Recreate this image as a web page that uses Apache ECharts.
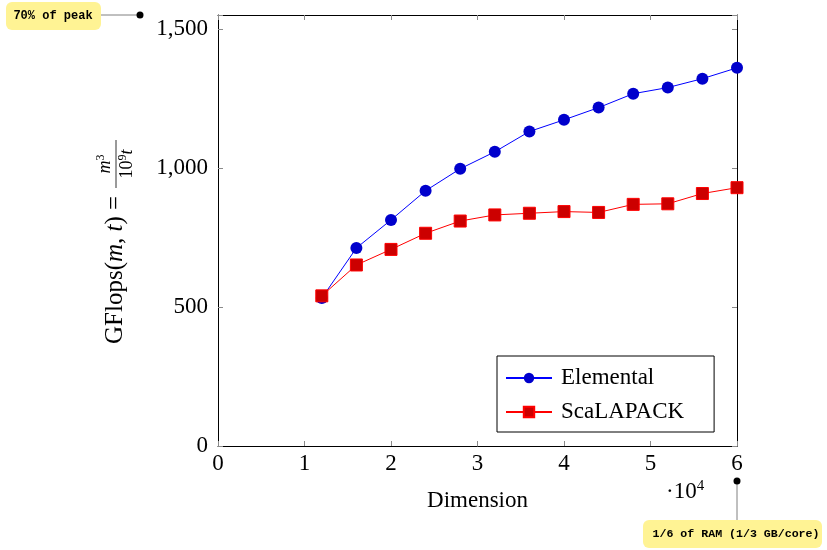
<!DOCTYPE html>
<html>
<head>
<meta charset="utf-8">
<script src="https://cdn.jsdelivr.net/npm/echarts@6/dist/echarts.min.js"></script>
<style>html,body{margin:0;padding:0;background:#fff;}#c{width:827px;height:550px;}</style>
</head>
<body>
<div id="c"></div>
<script>
const dims = [12000, 16000, 20000, 24000, 28000, 32000, 36000, 40000, 44000, 48000, 52000, 56000, 60000];
const elemental = [532, 712, 813, 918, 997, 1058, 1131, 1173, 1217, 1267, 1289, 1321, 1360];
const scalapack = [540, 651, 707, 765, 809, 831, 837, 843, 840, 869, 871, 908, 929];
const yTicks = [0, 500, 1000, 1500];
const xTicks = [0, 1, 2, 3, 4, 5, 6];

const SERIF = '"Liberation Serif", "DejaVu Serif", serif';
const MONO = '"Liberation Mono", "DejaVu Sans Mono", monospace';
const FS = 23;
const TICKC = '#8a8a8a';
const YEL = '#fff394';

const chart = echarts.init(document.getElementById('c'), null, {renderer: 'canvas'});

function pairs(xs, ys) { return xs.map((x, i) => [x, ys[i]]); }

const xCommon = {
  type: 'value', min: 0, max: 60000, interval: 10000,
  splitLine: {show: false},
  axisLine: {show: true, onZero: false, lineStyle: {color: '#000', width: 1}},
  axisTick: {show: true, inside: true, length: 5, lineStyle: {color: TICKC, width: 1}}
};
const yCommon = {
  type: 'value', min: 0, max: 1550, interval: 500,
  splitLine: {show: false},
  axisLine: {show: true, onZero: false, lineStyle: {color: '#000', width: 1}},
  axisTick: {show: true, inside: true, length: 5, lineStyle: {color: TICKC, width: 1}}
};

chart.setOption({
  animation: false,
  backgroundColor: '#fff',
  grid: {left: 218, right: 90, top: 15, bottom: 104, containLabel: false},
  xAxis: [
    Object.assign({}, xCommon, {
      position: 'bottom',
      name: 'Dimension', nameLocation: 'middle', nameGap: 43,
      nameTextStyle: {fontFamily: SERIF, fontSize: FS, color: '#000'},
      axisLabel: {
        show: true, margin: 6, fontFamily: SERIF, fontSize: FS, color: '#000',
        formatter: v => { const t = v / 10000; return xTicks.indexOf(t) >= 0 ? String(t) : ''; }
      }
    }),
    Object.assign({}, xCommon, {position: 'top', axisLabel: {show: false}})
  ],
  yAxis: [
    Object.assign({}, yCommon, {
      position: 'left',
      axisLabel: {
        show: true, margin: 10, fontFamily: SERIF, fontSize: FS, color: '#000',
        formatter: v => yTicks.indexOf(v) >= 0 ? v.toLocaleString('en-US') : ''
      }
    }),
    Object.assign({}, yCommon, {position: 'right', axisLabel: {show: false}})
  ],
  legend: {
    orient: 'vertical', left: 497, top: 356,
    padding: [10, 30, 8, 8],
    borderColor: '#000', borderWidth: 1, borderRadius: 0,
    backgroundColor: '#fff',
    itemWidth: 46, itemHeight: 13, itemGap: 10,
    textStyle: {fontFamily: SERIF, fontSize: FS, color: '#000', lineHeight: 24, padding: [0, 0, 0, 4]},
    data: ['Elemental', 'ScaLAPACK']
  },
  series: [
    {
      name: 'Elemental', type: 'line', xAxisIndex: 0, yAxisIndex: 0,
      data: pairs(dims, elemental),
      symbol: 'circle', symbolSize: 12,
      itemStyle: {color: '#0000cc', borderColor: '#0000cc', borderWidth: 0},
      lineStyle: {color: '#0000ff', width: 1},
      z: 2
    },
    {
      name: 'ScaLAPACK', type: 'line', xAxisIndex: 0, yAxisIndex: 0,
      data: pairs(dims, scalapack),
      symbol: 'rect', symbolSize: 12,
      itemStyle: {color: '#cc0000', borderColor: '#ff0000', borderWidth: 1},
      lineStyle: {color: '#ff0000', width: 1},
      z: 3
    }
  ],
  graphic: [
    // y-axis label (rotated)
    {
      type: 'group', x: 115, y: 232, rotation: Math.PI / 2, silent: true,
      children: [
        {
          type: 'text', x: -112, y: 0,
          style: {
            text: '{n|GFlops(}{i|m}{n|, }{i|t}{n|) =}',
            textAlign: 'left', textVerticalAlign: 'middle',
            rich: {
              n: {fontFamily: SERIF, fontSize: 25, fill: '#000'},
              i: {fontFamily: SERIF, fontSize: 25, fontStyle: 'italic', fill: '#000'}
            }
          }
        },
        {
          type: 'text', x: 68, y: -10,
          style: {
            text: '{i|m}{s|3}', textAlign: 'center', textVerticalAlign: 'middle',
            rich: {
              i: {fontFamily: SERIF, fontSize: 18, fontStyle: 'italic', fill: '#000'},
              s: {fontFamily: SERIF, fontSize: 12, fill: '#000', verticalAlign: 'top', padding: [0, 0, 8, 0]}
            }
          }
        },
        {type: 'line', shape: {x1: 44, y1: 1, x2: 92, y2: 1}, style: {stroke: '#000', lineWidth: 0.8}},
        {
          type: 'text', x: 68, y: 12,
          style: {
            text: '{n|10}{s|9}{i|t}', textAlign: 'center', textVerticalAlign: 'middle',
            rich: {
              n: {fontFamily: SERIF, fontSize: 18, fill: '#000'},
              i: {fontFamily: SERIF, fontSize: 18, fontStyle: 'italic', fill: '#000'},
              s: {fontFamily: SERIF, fontSize: 12, fill: '#000', verticalAlign: 'top', padding: [0, 0, 8, 0]}
            }
          }
        }
      ]
    },
    // x scale factor
    {
      type: 'text', x: 666, y: 492, silent: true,
      style: {
        text: '{n|·10}{s|4}', textAlign: 'left', textVerticalAlign: 'middle',
        rich: {
          n: {fontFamily: SERIF, fontSize: FS, fill: '#000'},
          s: {fontFamily: SERIF, fontSize: 15, fill: '#000', padding: [0, 0, 12, 0]}
        }
      }
    },
    // top annotation
    {type: 'line', shape: {x1: 100, y1: 15, x2: 140, y2: 15}, style: {stroke: '#808080', lineWidth: 1}, silent: true},
    {type: 'circle', shape: {cx: 140, cy: 15, r: 3.5}, style: {fill: '#000'}, silent: true},
    {type: 'rect', shape: {x: 6, y: 2, width: 95, height: 28, r: 6}, style: {fill: YEL}, silent: true},
    {
      type: 'text', x: 53, y: 16, silent: true,
      style: {text: '70% of peak', fontFamily: MONO, fontSize: 12, fontWeight: 'bold', fill: '#000', textAlign: 'center', textVerticalAlign: 'middle'}
    },
    // bottom annotation
    {type: 'line', shape: {x1: 737, y1: 481, x2: 737, y2: 520}, style: {stroke: '#808080', lineWidth: 1}, silent: true},
    {type: 'circle', shape: {cx: 737, cy: 481, r: 3.5}, style: {fill: '#000'}, silent: true},
    {type: 'rect', shape: {x: 643, y: 520, width: 179, height: 28, r: 6}, style: {fill: YEL}, silent: true},
    {
      type: 'text', x: 736, y: 534, silent: true,
      style: {text: '1/6 of RAM (1/3 GB/core)', fontFamily: MONO, fontSize: 11.6, fontWeight: 'bold', fill: '#000', textAlign: 'center', textVerticalAlign: 'middle'}
    }
  ]
});
</script>
</body>
</html>
